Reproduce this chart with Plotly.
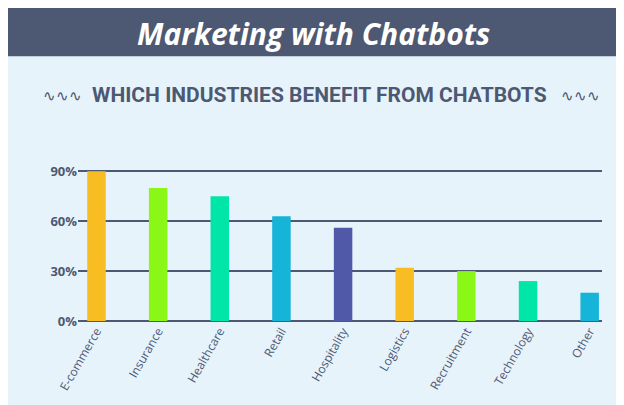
import plotly.graph_objects as go

industries = ["E-commerce", "Insurance", "Healthcare", "Retail", "Hospitality",
              "Logistics", "Recruitment", "Technology", "Other"]
share = [90, 80, 75, 63, 56, 32, 30, 24, 17]
bar_colors = ["#f7bd22", "#8af716", "#00e6a8", "#16b4d8", "#5058a8",
              "#f7bd22", "#8af716", "#00e6a8", "#16b4d8"]
y_ticks = [0, 30, 60, 90]

fig = go.Figure(go.Bar(
    x=industries, y=share, marker=dict(color=bar_colors, line=dict(width=0)),
    width=0.3, hoverinfo="skip"))

# header band
fig.add_shape(type="rect", xref="paper", yref="paper", x0=-0.2, x1=1.2, y0=1.73, y1=2.2,
              fillcolor="#4d5873", line=dict(width=0), layer="below")
fig.add_annotation(text="<b><i>Marketing with Chatbots</i></b>", xref="paper", yref="paper",
                   x=0.45, y=1.88, yanchor="middle", showarrow=False,
                   font=dict(family="Open Sans", size=30, color="white"))
fig.add_annotation(text="<b>WHICH INDUSTRIES BENEFIT FROM CHATBOTS</b>", xref="paper", yref="paper",
                   x=0.46, y=1.48, yanchor="middle", showarrow=False,
                   font=dict(family="Roboto", size=21, color="#4d5873"))
for xx in [-0.07, 1.0]:
    fig.add_annotation(text="∿∿∿", xref="paper", yref="paper", x=xx, y=1.48, yanchor="middle",
                       showarrow=False, font=dict(size=15, color="#4d5873"))

fig.update_layout(
    width=624, height=405,
    margin=dict(l=70, r=30, t=160, b=92),
    paper_bgcolor="#e6f3fb", plot_bgcolor="#e6f3fb",
    showlegend=False, bargap=0.7,
    xaxis=dict(tickangle=-60, tickfont=dict(family="Open Sans", size=12, color="#4d5873"),
               showgrid=False, showline=False, range=[-0.3, 8.2]),
    yaxis=dict(range=[0, 92], tickvals=y_ticks, ticktext=[f"<b>{v}%</b>" for v in y_ticks],
               tickfont=dict(family="Open Sans", size=13, color="#4d5873"),
               gridcolor="#4d5873", gridwidth=2, zeroline=True, zerolinecolor="#4d5873",
               zerolinewidth=2),
)

fig.write_html("out.html")
